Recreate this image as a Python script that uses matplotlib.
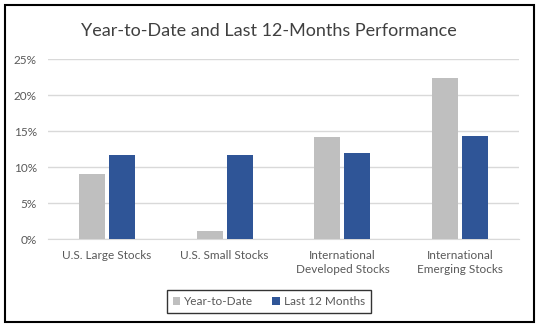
import matplotlib
matplotlib.use("Agg")
import matplotlib.pyplot as plt
from matplotlib.patches import Rectangle
import numpy as np

categories = ["U.S. Large Stocks", "U.S. Small Stocks",
              "International\nDeveloped Stocks", "International\nEmerging Stocks"]
ytd = [9.1, 1.1, 14.2, 22.4]
last12 = [11.7, 11.7, 12.0, 14.4]
yticks = [0, 5, 10, 15, 20, 25]
ytick_labels = ["0%", "5%", "10%", "15%", "20%", "25%"]

W, H = 538, 328
fig = plt.figure(figsize=(W / 100, H / 100), dpi=100)
plt.rcParams["font.family"] = ["Lato", "DejaVu Sans"]

# outer frame
fig.patches.append(Rectangle((4.5 / W, 1 - 322 / H), 529 / W, 317.5 / H,
                             transform=fig.transFigure, fill=False,
                             edgecolor="black", linewidth=1.5))

ax_l, ax_r, ax_t, ax_b = 48, 519, 59.3, 239.3
ax = fig.add_axes([ax_l / W, 1 - ax_b / H, (ax_r - ax_l) / W, (ax_b - ax_t) / H])

x = np.arange(len(categories))
bw = 0.22
gap = 0.035
ax.bar(x - (bw + gap) / 2, ytd, bw, color="#bfbfbf", label="Year-to-Date", zorder=3)
ax.bar(x + (bw + gap) / 2, last12, bw, color="#2f5597", label="Last 12 Months", zorder=3)

ax.set_xlim(-0.5, len(categories) - 0.5)
ax.set_ylim(0, 25)
ax.set_yticks(yticks)
ax.set_yticklabels(ytick_labels)
ax.yaxis.grid(True, color="#d9d9d9", linewidth=1, zorder=0)
ax.set_xticks(x)
ax.set_xticklabels(categories, linespacing=1.25)
ax.tick_params(axis="both", length=0, labelsize=8.5, colors="#595959")
ax.tick_params(axis="x", pad=8)
ax.tick_params(axis="y", pad=8)
for s in ["top", "right", "left"]:
    ax.spines[s].set_visible(False)
ax.spines["bottom"].set_color("#d9d9d9")

fig.text(0.5, 1 - 31 / H, "Year-to-Date and Last 12-Months Performance",
         ha="center", va="center", fontsize=13, color="#404040")

leg = fig.legend(loc="center", bbox_to_anchor=(269 / W, 1 - 301.5 / H),
                 ncol=2, frameon=True, fontsize=8.5, handlelength=0.6,
                 handleheight=0.6, handletextpad=0.4, columnspacing=1.6,
                 borderpad=0.5, fancybox=False)
leg.get_frame().set_edgecolor("black")
leg.get_frame().set_linewidth(1.0)
for t in leg.get_texts():
    t.set_color("#595959")

fig.savefig("out.png", dpi=100)
